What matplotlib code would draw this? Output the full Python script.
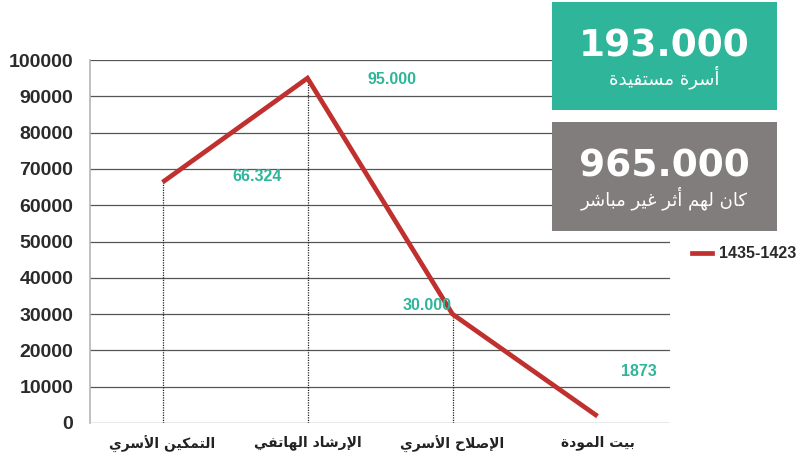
"""Line chart of family programme beneficiaries with summary boxes."""

import matplotlib

matplotlib.use("Agg")
import matplotlib.pyplot as plt
from matplotlib.lines import Line2D
from matplotlib.patches import Rectangle

# data
programs = ["التمكين الأسري", "الإرشاد الهاتفي", "الإصلاح الأسري", "بيت المودة"]
beneficiaries = [66324, 95000, 30000, 1873]
value_labels = ["66.324", "95.000", "30.000", "1873"]
series_name = "1435-1423"
y_ticks = [0, 10000, 20000, 30000, 40000, 50000, 60000, 70000, 80000, 90000, 100000]
box_numbers = ["193.000", "965.000"]
box_captions = ["أسرة مستفيدة", "كان لهم أثر غير مباشر"]

RED = "#c0302e"
TEAL = "#2fb59a"
GREY_BOX = "#827d7d"

# --- minimal Arabic shaping (presentation forms) so matplotlib draws joined RTL text
_FOUR = {  # dual-joining: isolated, final, initial, medial
    "ئ": 0xFE89, "ب": 0xFE8F, "ت": 0xFE95, "ث": 0xFE99, "ج": 0xFE9D, "ح": 0xFEA1,
    "خ": 0xFEA5, "س": 0xFEB1, "ش": 0xFEB5, "ص": 0xFEB9, "ض": 0xFEBD, "ط": 0xFEC1,
    "ظ": 0xFEC5, "ع": 0xFEC9, "غ": 0xFECD, "ف": 0xFED1, "ق": 0xFED5, "ك": 0xFED9,
    "ل": 0xFEDD, "م": 0xFEE1, "ن": 0xFEE5, "ه": 0xFEE9, "ي": 0xFEF1,
}
_TWO = {  # right-joining: isolated, final
    "آ": 0xFE81, "أ": 0xFE83, "ؤ": 0xFE85, "إ": 0xFE87, "ا": 0xFE8D, "ة": 0xFE93,
    "د": 0xFEA9, "ذ": 0xFEAB, "ر": 0xFEAD, "ز": 0xFEAF, "و": 0xFEED, "ى": 0xFEEF,
}
_LAM_ALEF = {"آ": 0xFEF5, "أ": 0xFEF7, "إ": 0xFEF9, "ا": 0xFEFB}


def shape_arabic(text):
    out = []
    i = 0
    n = len(text)
    while i < n:
        ch = text[i]
        prev = text[i - 1] if i > 0 else ""
        joins_prev = prev in _FOUR
        if ch == "ل" and i + 1 < n and text[i + 1] in _LAM_ALEF:
            base = _LAM_ALEF[text[i + 1]]
            out.append(chr(base + (1 if joins_prev else 0)))
            i += 2
            continue
        nxt = text[i + 1] if i + 1 < n else ""
        if ch in _FOUR:
            base = _FOUR[ch]
            joins_next = nxt in _FOUR or nxt in _TWO
            if joins_prev and joins_next:
                out.append(chr(base + 3))
            elif joins_prev:
                out.append(chr(base + 1))
            elif joins_next:
                out.append(chr(base + 2))
            else:
                out.append(chr(base))
        elif ch in _TWO:
            out.append(chr(_TWO[ch] + (1 if joins_prev else 0)))
        else:
            out.append(ch)
        i += 1
    return "".join(reversed(out))


plt.rcParams["font.family"] = ["Liberation Sans", "DejaVu Sans"]

fig = plt.figure(figsize=(8, 4.57), dpi=100)
ax = fig.add_axes([0.1125, 0.0744, 0.725, 0.7943])

x = list(range(len(programs)))
ax.plot(x, beneficiaries, color=RED, linewidth=3.4, solid_capstyle="butt",
        solid_joinstyle="miter", zorder=4, label=series_name)

# dotted drop lines
for xi, yi in zip(x[:-1], beneficiaries[:-1]):
    ax.plot([xi, xi], [0, yi], color="#222222", linestyle=(0, (1, 1.0)),
            linewidth=0.9, zorder=3)

offsets = [(68, 4), (61, -1), (-18, 6), (30, 32)]
for xi, yi, lab, off in zip(x, beneficiaries, value_labels, offsets):
    ax.annotate(lab, (xi, yi), xytext=off, textcoords="offset points",
                ha="center", va="center", color=TEAL, fontsize=11.5,
                fontweight="bold", zorder=6)

ax.set_xlim(-0.5, 3.5)
ax.set_ylim(0, 100000)
ax.set_yticks(y_ticks)
ax.set_yticklabels([str(v) for v in y_ticks], fontsize=14, fontweight="bold",
                   color="#2a2a2a")
ax.set_xticks(x)
ax.set_xticklabels([shape_arabic(p) for p in programs], fontsize=10,
                   fontweight="bold", color="#222222", family="DejaVu Sans")
ax.tick_params(axis="both", length=0)
ax.tick_params(axis="y", pad=12)
ax.tick_params(axis="x", pad=9)
ax.grid(axis="y", color="#555555", linewidth=0.9)
ax.set_axisbelow(True)
for side in ["top", "right", "bottom"]:
    ax.spines[side].set_visible(False)
ax.spines["left"].set_color("#b5b5b5")
ax.spines["left"].set_linewidth(1.2)

# summary boxes
boxes = [(0.69, 0.759, 0.281, 0.237, TEAL), (0.69, 0.4945, 0.281, 0.2385, GREY_BOX)]
for (bx, by, bw, bh, col), num, cap in zip(boxes, box_numbers, box_captions):
    fig.add_artist(Rectangle((bx, by), bw, bh, transform=fig.transFigure,
                             facecolor=col, edgecolor="none", zorder=10))
    fig.text(bx + bw / 2, by + bh * 0.59, num, ha="center", va="center",
             color="white", fontsize=27, fontweight="bold", zorder=11,
             family=["DejaVu Sans"])
    fig.text(bx + bw / 2, by + bh * 0.30, shape_arabic(cap), ha="center",
             va="center", color="white", fontsize=13, zorder=11,
             family=["DejaVu Sans"])

handle = Line2D([0], [0], color=RED, linewidth=3.4)
leg = fig.legend([handle], [series_name], loc="center left",
                 bbox_to_anchor=(0.853, 0.445), frameon=False,
                 handlelength=1.25, handletextpad=0.45, borderpad=0.3,
                 borderaxespad=0.3, prop={"weight": "bold", "size": 11.5})
for t in leg.get_texts():
    t.set_color("#2a2a2a")

fig.savefig("out.png", dpi=100)
